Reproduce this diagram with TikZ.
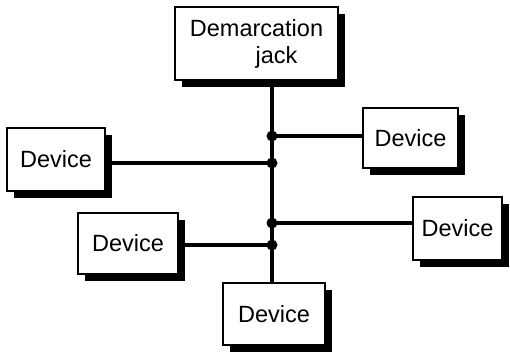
\documentclass[tikz,border=0pt]{standalone}
\usepackage{fontspec}
\setmainfont{Liberation Sans}
\usetikzlibrary{shadows,positioning}
\tikzset{
  devbox/.style={draw=black,fill=white,line width=2pt,
                 align=center,font=\fontsize{23.5}{27}\selectfont,inner sep=2pt,
                 drop shadow={shadow xshift=7pt,shadow yshift=-7pt,
                              fill=black,opacity=1}},
  wire/.style={line width=4pt},
  tap/.style={circle,fill=black,inner sep=0pt,minimum size=11pt}
}
\begin{document}
\begin{tikzpicture}[x=1pt,y=-1pt]
  \useasboundingbox (0,0) rectangle (510,353);
  % boxes
  \node[devbox,minimum width=163pt,minimum height=73pt] (jack) at (256.5,43.5)
       {Demarcation\\\hspace*{1.7em}jack};
  \node[devbox,minimum width=98pt,minimum height=63pt] (devw) at (56,159.5) {Device};
  \node[devbox,minimum width=95pt,minimum height=60pt] (devne) at (410.5,138) {Device};
  \node[devbox,minimum width=100pt,minimum height=61pt] (devsw) at (128,243.5) {Device};
  \node[devbox,minimum width=89pt,minimum height=63pt] (devse) at (457.5,228.5) {Device};
  \node[devbox,minimum width=102pt,minimum height=62pt] (devs) at (274,314) {Device};
  % taps on the bus
  \coordinate (t1) at (272,136);
  \coordinate (t2) at (272,163);
  \coordinate (t3) at (272,223);
  \coordinate (t4) at (272,245);
  \draw[wire] (jack.south -| t1) -- (devs.north -| t1);
  \draw[wire] (t1) -- (t1 -| devne.west);
  \draw[wire] (t2 -| devw.east) -- (t2);
  \draw[wire] (t3) -- (t3 -| devse.west);
  \draw[wire] (t4 -| devsw.east) -- (t4);
  \foreach \t in {t1,t2,t3,t4}
    \node[tap] at (\t) {};
\end{tikzpicture}
\end{document}
